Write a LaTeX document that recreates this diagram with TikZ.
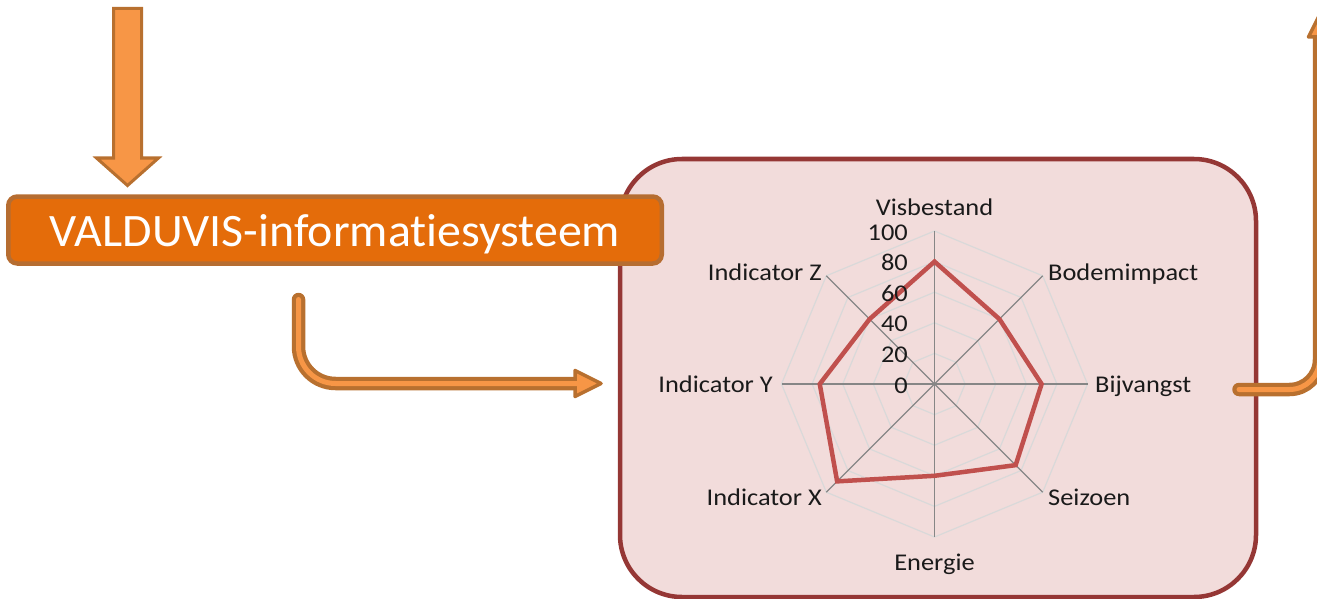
\documentclass[tikz,border=0pt]{standalone}
\usepackage{fontspec}
\setmainfont{Carlito}
\newfontfamily\chartfont[FakeStretch=1.1, Ligatures=NoCommon]{Carlito}
\newfontfamily\boxfont[FakeStretch=1.03, Ligatures=NoCommon]{Carlito}
\usetikzlibrary{calc}
\definecolor{panelfill}{HTML}{F2DCDB}
\definecolor{panelline}{HTML}{953735}
\definecolor{boxfill}{HTML}{E46C0A}
\definecolor{boxline}{HTML}{B66D31}
\definecolor{arrfill}{HTML}{F79646}
\definecolor{arrline}{HTML}{B8702F}
\definecolor{gridc}{HTML}{D9D9D9}
\definecolor{axisc}{HTML}{868686}
\definecolor{datac}{HTML}{C0504D}
\definecolor{txtc}{HTML}{1A1A1A}
\begin{document}
\begin{tikzpicture}[x=1pt,y=-1pt,
  panel/.style={draw=panelline, fill=panelfill, line width=4.5pt, rounded corners=62pt},
  sysbox/.style={draw=boxline, fill=boxfill, line width=4.5pt, rounded corners=9pt,
    text=white, font=\boxfont\fontsize{46.5}{50}\selectfont, inner sep=0pt,
    text height=36pt, text depth=2.6pt},
  blockarrow/.style={draw=arrline, fill=arrfill, line width=3pt, line join=miter},
  shaftout/.style={draw=arrline, line width=13.5pt, line cap=round},
  shaftin/.style={draw=arrfill, line width=5pt, line cap=round},
  headst/.style={draw=arrline, fill=arrfill, line width=3.5pt, line join=round},
  gridline/.style={draw=gridc, line width=1.2pt},
  axisline/.style={draw=axisc, line width=1.2pt},
  dataline/.style={draw=datac, line width=4.5pt, line join=miter},
  lbl/.style={inner sep=0pt, text=txtc, font=\chartfont\fontsize{24}{28}\selectfont},
]
\useasboundingbox (0,0) rectangle (1317,599);

% panel with radar chart
\node[panel, minimum width=636pt, minimum height=438pt] (panel) at (938,378) {};

\coordinate (c) at (934.5,384);
\begin{scope}[shift={(c)}, y=1pt]
  \foreach \k in {1,...,5} {
    \pgfmathsetmacro{\r}{\k*30.6}
    \draw[gridline] (90:\r) -- (45:\r) -- (0:\r) -- (-45:\r) -- (-90:\r)
      -- (-135:\r) -- (180:\r) -- (135:\r) -- cycle;
  }
  \foreach \a in {90,45,0,-45,-90,-135,180,135}
    \draw[axisline] (0,0) -- (\a:153);
  \draw[dataline] (90:122.4) -- (45:91.8) -- (0:107.1) -- (-45:114.75)
    -- (-90:91.8) -- (-135:137.7) -- (180:114.75) -- (135:91.8) -- cycle;
  \foreach \v [count=\i from 0] in {0,20,40,60,80,100}
    \node[lbl, anchor=base east] (t\v) at (-26.5,{-9+\i*30.6}) {\v};
  \node[lbl, anchor=base] (lvis) at (0,169) {Visbestand};
  \node[lbl, anchor=base west] (lbod) at (113.5,104) {Bodemimpact};
  \node[lbl, anchor=base west] (lbij) at (160.5,-8) {Bijvangst};
  \node[lbl, anchor=base west] (lsei) at (113.5,-121) {Seizoen};
  \node[lbl, anchor=base] (lene) at (0,-186) {Energie};
  \node[lbl, anchor=base east] (lix) at (-112.5,-121) {Indicator X};
  \node[lbl, anchor=base east] (liy) at (-161.5,-8) {Indicator Y};
  \node[lbl, anchor=base east] (liz) at (-112.5,104) {Indicator Z};
\end{scope}

% system box
\node[sysbox, minimum width=653.5pt, minimum height=67pt] (sys) at (335,230) {VALDUVIS-informatiesysteem};

% incoming block arrow
\coordinate (inTop) at (127.5,8.5);
\draw[blockarrow] ($(inTop)+(-14,0)$) -- ($(inTop)+(14,0)$) -- ($(inTop)+(14,149.5)$)
  -- ($(inTop)+(31,149.5)$) -- ($(inTop)+(0,177)$) -- ($(inTop)+(-31,149.5)$)
  -- ($(inTop)+(-14,149.5)$) -- cycle;

% arrow from system box to panel
\coordinate (a1s) at (298.5,299.5);
\coordinate (a1e) at (575,383.5);
\draw[shaftout, rounded corners=37pt] (a1s) -- (a1s |- a1e) -- (a1e);
\draw[headst] ($(a1e)+(0,-13)$) -- ($(a1e)+(26,0)$) -- ($(a1e)+(0,13)$) -- cycle;
\draw[shaftin, rounded corners=37pt] (a1s) -- (a1s |- a1e) -- ($(a1e)+(8,0)$);

% arrow leaving panel
\coordinate (a2s) at (1239,389.5);
\coordinate (a2e) at (1319.5,37);
\draw[shaftout, rounded corners=30pt] (a2s) -- (a2e |- a2s) -- (a2e);
\draw[headst] ($(a2e)+(-11,0)$) -- ($(a2e)+(0,-22)$) -- ($(a2e)+(11,0)$) -- cycle;
\draw[shaftin, rounded corners=30pt] (a2s) -- (a2e |- a2s) -- ($(a2e)+(0,-6)$);
\end{tikzpicture}
\end{document}
